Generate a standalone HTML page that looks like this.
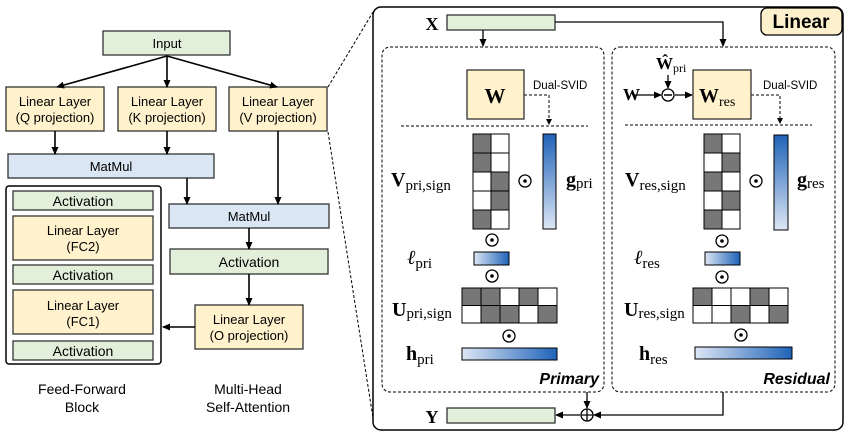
<!DOCTYPE html>
<html><head><meta charset="utf-8"><style>body{margin:0;background:#fff}svg{display:block}</style></head><body>
<svg width="848" height="435" viewBox="0 0 848 435" xmlns="http://www.w3.org/2000/svg">
<defs>
<marker id="a" markerWidth="8" markerHeight="8" refX="7" refY="4" orient="auto" markerUnits="userSpaceOnUse"><path d="M0,0.5 L8,4 L0,7.5z" fill="#000"/></marker>
<linearGradient id="gv" x1="0" y1="0" x2="0" y2="1"><stop offset="0" stop-color="#1f63b8"/><stop offset="1" stop-color="#dde6f5"/></linearGradient>
<linearGradient id="gh" x1="0" y1="0" x2="1" y2="0"><stop offset="0" stop-color="#dde6f5"/><stop offset="1" stop-color="#1f63b8"/></linearGradient>
</defs>
<g font-family="Liberation Sans, sans-serif" font-size="13" text-anchor="middle" stroke-width="1.3">
<rect x="103" y="31" width="127" height="24" fill="#e2efda" stroke="#333"/><text x="167" y="48">Input</text>
<rect x="6" y="87" width="98" height="44" fill="#fff2cc" stroke="#333"/><text x="55" y="106">Linear Layer</text><text x="55" y="122">(Q projection)</text>
<rect x="118" y="87" width="98" height="44" fill="#fff2cc" stroke="#333"/><text x="167" y="106">Linear Layer</text><text x="167" y="122">(K projection)</text>
<rect x="229" y="87" width="98" height="44" fill="#fff2cc" stroke="#333"/><text x="278" y="106">Linear Layer</text><text x="278" y="122">(V projection)</text>
<rect x="8" y="154" width="206" height="24" fill="#dae6f3" stroke="#333"/><text x="111" y="171">MatMul</text>
<rect x="6" y="186" width="155" height="178" rx="3" fill="none" stroke="#000" stroke-width="1.5"/>
<rect x="13" y="191" width="140" height="19" fill="#e2efda" stroke="#333"/><text x="83" y="206" font-size="14">Activation</text>
<rect x="13" y="216" width="140" height="44" fill="#fff2cc" stroke="#333"/><text x="83" y="235">Linear Layer</text><text x="83" y="251">(FC2)</text>
<rect x="13" y="265" width="140" height="19" fill="#e2efda" stroke="#333"/><text x="83" y="280" font-size="14">Activation</text>
<rect x="13" y="290" width="140" height="44" fill="#fff2cc" stroke="#333"/><text x="83" y="310">Linear Layer</text><text x="83" y="326">(FC1)</text>
<rect x="13" y="341" width="140" height="19" fill="#e2efda" stroke="#333"/><text x="83" y="356" font-size="14">Activation</text>
<rect x="169" y="204" width="160" height="24" fill="#dae6f3" stroke="#333"/><text x="249" y="221">MatMul</text>
<rect x="170" y="249" width="158" height="25" fill="#e2efda" stroke="#333"/><text x="249" y="267" font-size="14">Activation</text>
<rect x="195" y="305" width="108" height="44" fill="#fff2cc" stroke="#333"/><text x="249" y="324">Linear Layer</text><text x="249" y="340">(O projection)</text>
<text x="82" y="394" font-size="14">Feed-Forward</text><text x="82" y="412" font-size="14">Block</text>
<text x="248" y="394" font-size="14">Multi-Head</text><text x="248" y="412" font-size="14">Self-Attention</text>
<g stroke="#000" stroke-width="1.6" fill="none" marker-end="url(#a)">
<path d="M167,56 L57,87"/><path d="M167,56 L167,87"/><path d="M167,56 L277,87"/>
<path d="M55,131 V154"/><path d="M167,131 V154"/><path d="M187,178 V204"/><path d="M278,131 V204"/>
<path d="M249,228 V249"/><path d="M249,274 V305"/><path d="M195,327 H163"/>
</g>
<g stroke="#000" stroke-width="1" stroke-dasharray="3,2" fill="none"><path d="M328,87 L373,12"/><path d="M328,132 L373,418"/></g>
</g>
<g font-family="Liberation Serif, serif" stroke-width="1.3">
<rect x="373" y="7" width="470" height="423" rx="8" fill="none" stroke="#000" stroke-width="1.5"/>
<rect x="761" y="8" width="81" height="27" rx="6" fill="#fdf0cc" stroke="#000"/>
<text x="801" y="28" font-family="Liberation Sans, sans-serif" font-weight="bold" font-size="19" text-anchor="middle">Linear</text>
<text x="432" y="30" font-weight="bold" font-size="18" text-anchor="middle">X</text>
<rect x="447" y="15" width="108" height="15" fill="#e2efda" stroke="#333"/>
<rect x="382" y="47" width="222" height="345" rx="8" fill="none" stroke="#000" stroke-dasharray="3,2" stroke-width="1"/>
<rect x="612" y="47" width="223" height="345" rx="8" fill="none" stroke="#000" stroke-dasharray="3,2" stroke-width="1"/>
<g stroke="#000" stroke-width="1.3" fill="none" marker-end="url(#a)">
<path d="M483,30 V46"/><path d="M555,22 H723 V46"/>
<path d="M587,392 V408"/><path d="M723,392 V415 H594"/><path d="M580,415 H556"/>
<path d="M634,95 H661"/><path d="M668,75 V88"/><path d="M675,95 H692"/>
</g>
<g stroke="#000" stroke-width="1" fill="none" stroke-dasharray="3,2">
<path d="M401,126 H588"/><path d="M625,125 H812"/>
<path d="M524,95 H549 V120"/><path d="M751,95 H780 V119"/>
</g>
<path d="M546,119 L549,125 L552,119z M777,118 L780,124 L783,118z"/>
<circle cx="668" cy="95" r="6" fill="#fff" stroke="#000"/><path d="M664,95 H672" stroke="#000" stroke-width="1.5"/>
<circle cx="587" cy="415" r="6" fill="#fff" stroke="#000"/><path d="M581,415 H593 M587,409 V421" stroke="#000"/>
<rect x="447" y="408" width="108" height="15" fill="#e2efda" stroke="#333"/>
<text x="432" y="423" font-weight="bold" font-size="18" text-anchor="middle">Y</text>
<rect x="467" y="70" width="57" height="49" fill="#fff2cc" stroke="#333"/>
<text x="495" y="103" font-weight="bold" font-size="21" text-anchor="middle">W</text>
<rect x="693" y="70" width="58" height="49" fill="#fff2cc" stroke="#333"/>
<text x="699" y="102" font-weight="bold" font-size="20">W<tspan font-weight="normal" font-size="14" dy="4">res</tspan></text>
<text x="623" y="100" font-weight="bold" font-size="17">W</text>
<text x="656" y="69" font-weight="bold" font-size="17">Ŵ<tspan font-weight="normal" font-size="12" dy="3">pri</tspan></text>
<g font-family="Liberation Sans, sans-serif" font-size="11.5"><text x="533" y="89">Dual-SVID</text><text x="763" y="89">Dual-SVID</text></g>
<g stroke="#000" stroke-width="1">
<rect x="473" y="134" width="18" height="19" fill="#777"/><rect x="491" y="134" width="18" height="19" fill="#fff"/>
<rect x="473" y="153" width="18" height="19" fill="#777"/><rect x="491" y="153" width="18" height="19" fill="#fff"/>
<rect x="473" y="172" width="18" height="19" fill="#fff"/><rect x="491" y="172" width="18" height="19" fill="#777"/>
<rect x="473" y="191" width="18" height="19" fill="#fff"/><rect x="491" y="191" width="18" height="19" fill="#777"/>
<rect x="473" y="210" width="18" height="19" fill="#777"/><rect x="491" y="210" width="18" height="19" fill="#fff"/>
<rect x="704" y="134" width="18" height="19" fill="#777"/><rect x="722" y="134" width="18" height="19" fill="#fff"/>
<rect x="704" y="153" width="18" height="19" fill="#fff"/><rect x="722" y="153" width="18" height="19" fill="#777"/>
<rect x="704" y="172" width="18" height="19" fill="#777"/><rect x="722" y="172" width="18" height="19" fill="#fff"/>
<rect x="704" y="191" width="18" height="19" fill="#fff"/><rect x="722" y="191" width="18" height="19" fill="#777"/>
<rect x="704" y="210" width="18" height="19" fill="#777"/><rect x="722" y="210" width="18" height="19" fill="#fff"/>
<rect x="462" y="288" width="19" height="17.5" fill="#777"/><rect x="481" y="288" width="19" height="17.5" fill="#777"/><rect x="500" y="288" width="19" height="17.5" fill="#fff"/><rect x="519" y="288" width="19" height="17.5" fill="#777"/><rect x="538" y="288" width="19" height="17.5" fill="#fff"/>
<rect x="462" y="305.5" width="19" height="17.5" fill="#fff"/><rect x="481" y="305.5" width="19" height="17.5" fill="#777"/><rect x="500" y="305.5" width="19" height="17.5" fill="#777"/><rect x="519" y="305.5" width="19" height="17.5" fill="#fff"/><rect x="538" y="305.5" width="19" height="17.5" fill="#777"/>
<rect x="693" y="288" width="19" height="17.5" fill="#777"/><rect x="712" y="288" width="19" height="17.5" fill="#fff"/><rect x="731" y="288" width="19" height="17.5" fill="#fff"/><rect x="750" y="288" width="19" height="17.5" fill="#777"/><rect x="769" y="288" width="19" height="17.5" fill="#fff"/>
<rect x="693" y="305.5" width="19" height="17.5" fill="#fff"/><rect x="712" y="305.5" width="19" height="17.5" fill="#fff"/><rect x="731" y="305.5" width="19" height="17.5" fill="#777"/><rect x="750" y="305.5" width="19" height="17.5" fill="#fff"/><rect x="769" y="305.5" width="19" height="17.5" fill="#777"/>
<rect x="543" y="134" width="13" height="95" fill="url(#gv)"/><rect x="774" y="135" width="14" height="95" fill="url(#gv)"/>
<rect x="474" y="252" width="35" height="13" fill="url(#gh)"/><rect x="705" y="252" width="35" height="13" fill="url(#gh)"/>
<rect x="462" y="348" width="95" height="12" fill="url(#gh)"/><rect x="695" y="347" width="97" height="12" fill="url(#gh)"/>
</g>
<g fill="none" stroke="#000" stroke-width="1.3">
<circle cx="525" cy="181" r="6"/><circle cx="492" cy="240" r="6"/><circle cx="492" cy="276" r="6"/><circle cx="509" cy="336" r="6"/>
<circle cx="756" cy="181" r="6"/><circle cx="722" cy="241" r="6"/><circle cx="722" cy="277" r="6"/><circle cx="741" cy="335" r="6"/>
</g>
<g><circle cx="525" cy="181" r="1.8"/><circle cx="492" cy="240" r="1.8"/><circle cx="492" cy="276" r="1.8"/><circle cx="509" cy="336" r="1.8"/>
<circle cx="756" cy="181" r="1.8"/><circle cx="722" cy="241" r="1.8"/><circle cx="722" cy="277" r="1.8"/><circle cx="741" cy="335" r="1.8"/></g>
<g font-size="20" font-weight="bold">
<text x="391" y="186">V<tspan font-weight="normal" font-size="15" dy="4">pri,sign</tspan></text>
<text x="566" y="186">g<tspan font-weight="normal" font-size="15" dy="2">pri</tspan></text>
<text x="407" y="264" font-style="italic" font-weight="normal">ℓ<tspan font-style="normal" font-size="15" dy="4">pri</tspan></text>
<text x="392" y="316">U<tspan font-weight="normal" font-size="15" dy="2">pri,sign</tspan></text>
<text x="406" y="360">h<tspan font-weight="normal" font-size="15" dy="4">pri</tspan></text>
<text x="625" y="186">V<tspan font-weight="normal" font-size="15" dy="4">res,sign</tspan></text>
<text x="797" y="186">g<tspan font-weight="normal" font-size="15" dy="2">res</tspan></text>
<text x="634" y="264" font-style="italic" font-weight="normal">ℓ<tspan font-style="normal" font-size="15" dy="4">res</tspan></text>
<text x="624" y="316">U<tspan font-weight="normal" font-size="15" dy="2">res,sign</tspan></text>
<text x="639" y="360">h<tspan font-weight="normal" font-size="15" dy="4">res</tspan></text>
</g>
<g font-family="Liberation Sans, sans-serif" font-weight="bold" font-style="italic" font-size="16" text-anchor="end">
<text x="599" y="384">Primary</text><text x="830" y="384">Residual</text></g>
</g>
</svg>
</body></html>
